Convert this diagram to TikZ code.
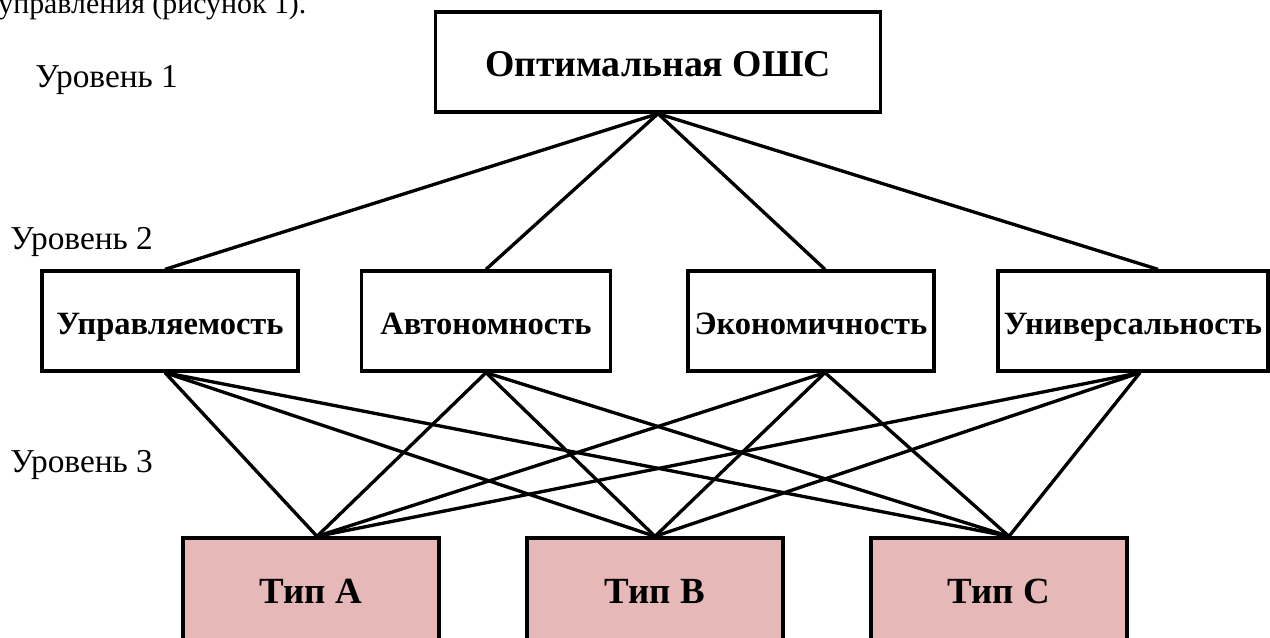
\documentclass[tikz,border=0pt]{standalone}
\usepackage{fontspec}
\setmainfont{Liberation Serif}
\usepackage{xcolor}
\usetikzlibrary{positioning}
\definecolor{typfill}{HTML}{E6B8B7}

\tikzset{
  crit/.style={draw, line width=1.9pt, minimum height=2cm, inner sep=0pt, text height=14.8pt, text depth=0pt, font=\fontsize{18.5}{22}\selectfont\bfseries},
  goal/.style={crit, minimum width=8.9cm, text height=16pt, font=\fontsize{21.5}{26}\selectfont\bfseries},
  typ/.style={crit, fill=typfill, minimum width=5.12cm, minimum height=2.16cm, text height=13pt, font=\fontsize{21}{25}\selectfont\bfseries},
  lvl/.style={anchor=west, inner sep=0pt, font=\fontsize{19}{23}\selectfont},
  link/.style={line width=1.9pt}
}

\begin{document}
\begin{tikzpicture}[x=0.02cm, y=-0.02cm]
            \useasboundingbox (0,0) rectangle (1270,637);

            %Nodes
            \node[anchor=base west, inner sep=0pt, font=\fontsize{17}{21}\selectfont] at (-2,13) (intro) {управления (рисунок 1).};
            \node[lvl] at (35,80) (l1) {Уровень 1};
            \node[lvl] at (10,242) (l2) {Уровень 2};
            \node[lvl] at (10,465) (l3) {Уровень 3};

            \node[goal] at (658,62) (O) {Оптимальная ОШС};

            \node[crit, minimum width=5.12cm] at (170,321) (U1) {Управляемость};
            \node[crit, minimum width=4.98cm] at (486,321) (U2) {Автономность};
            \node[crit, minimum width=4.92cm] at (811,321) (U3) {Экономичность};
            \node[crit, minimum width=5.4cm] at (1133,321) (U4) {Универсальность};

            \node[typ] at (311,592) (TA) {Тип А};
            \node[typ] at (655,592) (TB) {Тип В};
            \node[typ] at (999,592) (TC) {Тип С};

            %Joints
            \coordinate (U1t) at ([xshift=-0.1cm]U1.north);
            \coordinate (U2t) at (U2.north);
            \coordinate (U3t) at ([xshift=0.28cm]U3.north);
            \coordinate (U4t) at ([xshift=0.5cm]U4.north);
            \coordinate (U1b) at ([xshift=-0.1cm]U1.south);
            \coordinate (U2b) at (U2.south);
            \coordinate (U3b) at ([xshift=0.28cm]U3.south);
            \coordinate (U4b) at ([xshift=0.14cm]U4.south);
            \coordinate (TAt) at ([xshift=0.12cm]TA.north);
            \coordinate (TBt) at (TB.north);
            \coordinate (TCt) at ([xshift=0.2cm]TC.north);

            %Lines
            \foreach \u in {U1t,U2t,U3t,U4t}
                \draw[link] (O.south) -- (\u);
            \foreach \u in {U1b,U2b,U3b,U4b}
                \foreach \t in {TAt,TBt,TCt}
                    \draw[link] (\u) -- (\t);
        \end{tikzpicture}
\end{document}
